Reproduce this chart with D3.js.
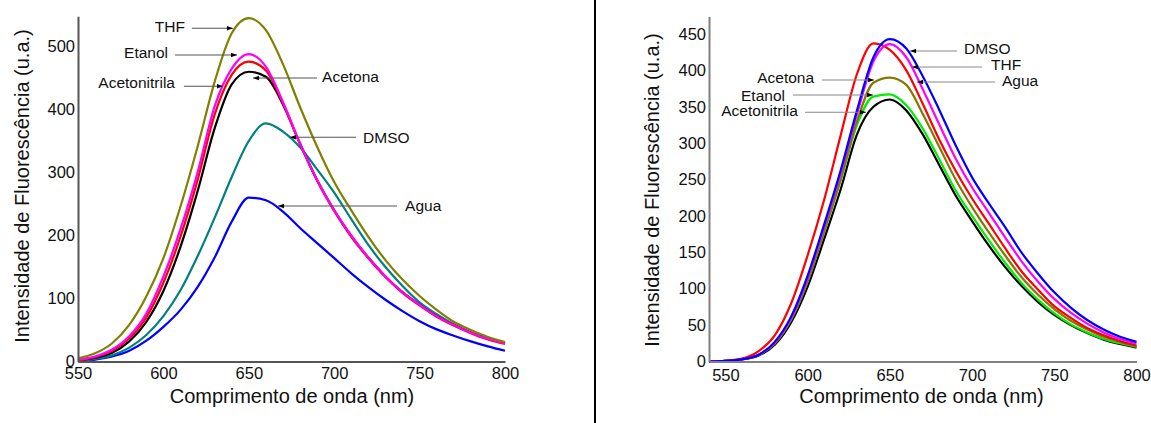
<!DOCTYPE html>
<html>
<head>
<meta charset="utf-8">
<script src="https://cdn.jsdelivr.net/npm/d3@7"></script>
<style>
  html, body { margin: 0; padding: 0; background: #fff; }
  svg { display: block; font-family: "Liberation Sans", Arial, sans-serif; }
</style>
</head>
<body>
<svg id="chart" width="1151" height="423"></svg>
<script>
// ---------- data ----------
const leftWavelengths = [550,560,570,580,590,600,610,620,630,640,650,660,670,680,690,700,710,720,730,740,750,760,770,780,790,800];
const leftTHF          = [5,13,29,58,103,164,246,341,444,521,545,526,472,404,341,285,240,198,161,130,104,82,63,50,39,31];
const leftEtanol       = [3,8,19,40,76,135,210,300,405,465,488,468,412,346,288,240,200,165,135,110,90,72,58,46,36,29];
const leftAcetonitrila = [2,7,17,37,70,125,198,288,392,455,476,462,410,345,287,239,198,164,134,109,89,71,57,45,35,28];
const leftAcetona      = [2,6,14,32,63,112,182,270,370,440,460,452,408,346,288,240,199,165,135,110,90,72,58,46,36,29];
const leftDMSO         = [1,4,10,22,42,72,113,167,228,293,350,378,365,340,305,268,226,185,150,120,94,75,59,46,37,30];
const leftAgua         = [0,3,8,17,33,55,82,118,165,222,260,256,238,212,188,164,140,118,98,80,64,51,41,32,24,17];

const rightWavelengths = [540,550,560,570,580,590,600,610,620,630,640,650,660,670,680,690,700,710,720,730,740,750,760,770,780,790,800];
const rightAgua         = [0,1,4,14,36,80,146,222,310,395,437,428,400,354,305,262,224,190,156,124,99,76,60,46,36,28,22];
const rightDMSO         = [0,1,3,9,27,62,118,188,262,345,418,443,430,392,346,297,253,218,185,150,121,95,74,57,44,34,27];
const rightTHF          = [0,1,3,9,26,60,115,185,258,340,412,436,418,374,326,279,239,205,171,138,110,86,67,52,40,31,25];
const rightAcetona      = [0,1,3,9,25,58,110,178,250,330,383,390,380,340,295,250,212,178,146,116,92,72,56,44,34,27,21];
const rightEtanol       = [0,1,3,9,25,58,110,178,248,325,364,367,352,320,278,235,200,167,136,108,85,66,51,40,31,25,20];
const rightAcetonitrila = [0,1,3,8,23,54,103,168,236,312,350,360,345,312,270,228,193,160,130,104,82,64,50,39,30,24,19];

const leftXTicks  = [550,600,650,700,750,800];
const leftYTicks  = [0,100,200,300,400,500];
const rightXTicks = [550,600,650,700,750,800];
const rightYTicks = [0,50,100,150,200,250,300,350,400,450];

const xTitle = "Comprimento de onda (nm)";
const yTitle = "Intensidade de Fluorescência (u.a.)";

// ---------- series definitions (drawn back to front) ----------
const leftSeries = [
  {name:"Agua", values:leftAgua, color:"#0000ff"},
  {name:"DMSO", values:leftDMSO, color:"#008080"},
  {name:"Acetona", values:leftAcetona, color:"#000000"},
  {name:"Acetonitrila", values:leftAcetonitrila, color:"#ff0000"},
  {name:"Etanol", values:leftEtanol, color:"#ff00ff"},
  {name:"THF", values:leftTHF, color:"#808000"}
];
const rightSeries = [
  {name:"Acetonitrila", values:rightAcetonitrila, color:"#000000"},
  {name:"Etanol", values:rightEtanol, color:"#00ee00"},
  {name:"Acetona", values:rightAcetona, color:"#857800"},
  {name:"Agua", values:rightAgua, color:"#ff0000"},
  {name:"THF", values:rightTHF, color:"#ff00ff"},
  {name:"DMSO", values:rightDMSO, color:"#0000ff"}
];

// annotations in data units: text anchor point, line start, arrow tip
const leftAnn = [
  {label:"THF",          side:"left",  tx:612.6, ty:532, lx:616.7, tip:640.7, ly:529},
  {label:"Etanol",       side:"left",  tx:602.7, ty:491, lx:606.8, tip:643.1, ly:486.5},
  {label:"Acetonitrila", side:"left",  tx:606.8, ty:442, lx:612.0, tip:634.9, ly:437},
  {label:"Acetona",      side:"right", tx:692.9, ty:451.6, lx:689.9, tip:652.5, ly:450},
  {label:"DMSO",         side:"right", tx:716.9, ty:356, lx:712.8, tip:674.1, ly:356},
  {label:"Agua",         side:"right", tx:741.5, ty:246.8, lx:736.8, tip:667.1, ly:246.8}
];
const rightAnn = [
  {label:"Acetona",      side:"left",  tx:603.9, ty:389.5, lx:608.7, tip:640.4, ly:386.8},
  {label:"Etanol",       side:"left",  tx:586.2, ty:364.8, lx:591.1, tip:639.8, ly:366.2},
  {label:"Acetonitrila", side:"left",  tx:594.1, ty:344.2, lx:598.4, tip:635.5, ly:342.5},
  {label:"DMSO",         side:"right", tx:695.1, ty:429.4, lx:690.9, tip:662.3, ly:426.6},
  {label:"THF",          side:"right", tx:711.5, ty:407.4, lx:706.1, tip:663.5, ly:404.6},
  {label:"Agua",         side:"right", tx:718.2, ty:385.4, lx:714.0, tip:666.5, ly:384}
];

// ---------- drawing ----------
const svg = d3.select("#chart");
svg.append("rect").attr("width",1151).attr("height",423).attr("fill","#fff");

function drawChart(cfg) {
  const x = d3.scaleLinear().domain(cfg.xDomain).range(cfg.xRange);
  const y = d3.scaleLinear().domain(cfg.yDomain).range(cfg.yRange);
  const g = svg.append("g");

  // curves
  const line = d3.line().curve(d3.curveMonotoneX)
    .x((d,i) => x(cfg.wl[i])).y(d => y(d));
  cfg.series.forEach(s => {
    g.append("path").datum(s.values)
      .attr("d", line).attr("fill","none")
      .attr("stroke", s.color).attr("stroke-width", 2.2)
      .attr("stroke-linejoin","round");
  });

  // axes
  const xAxis = g.append("g").attr("transform", `translate(0,${cfg.yRange[0]})`)
    .call(d3.axisBottom(x).tickValues(cfg.xTicks).tickSize(0).tickPadding(cfg.xPad).tickFormat(d3.format("d")));
  const yAxis = g.append("g").attr("transform", `translate(${cfg.xRange[0]},0)`)
    .call(d3.axisLeft(y).tickValues(cfg.yTicks).tickSize(0).tickPadding(3).tickFormat(d3.format("d")));
  [xAxis, yAxis].forEach(a => {
    a.select(".domain").attr("stroke", cfg.axisColor).attr("stroke-width", 2);
    a.selectAll("text").attr("font-size", 16.5).attr("fill","#111")
      .attr("font-family", '"Liberation Sans", Arial, sans-serif');
  });

  // titles
  g.append("text").attr("x", cfg.xTitleX).attr("y", 403)
    .attr("text-anchor","middle").attr("font-size",20).attr("fill","#111").text(xTitle);
  g.append("text").attr("transform", `translate(${cfg.yTitleX},${cfg.yTitleY}) rotate(-90)`)
    .attr("text-anchor","middle").attr("font-size",20).attr("fill","#111").text(yTitle);

  // annotations
  cfg.ann.forEach(a => {
    const x1 = x(a.lx), x2 = x(a.tip), yy = y(a.ly);
    g.append("line").attr("x1",x1).attr("x2",x2).attr("y1",yy).attr("y2",yy)
      .attr("stroke", cfg.annLineColor).attr("stroke-width",1.1);
    const dir = x2 < x1 ? 1 : -1; // arrow points toward tip
    g.append("path")
      .attr("d", `M${x2},${yy} L${x2+dir*6},${yy-2.3} L${x2+dir*6},${yy+2.3} Z`)
      .attr("fill","#000");
    g.append("text").attr("x", x(a.tx)).attr("y", y(a.ty))
      .attr("dy","0.35em")
      .attr("text-anchor", a.side === "left" ? "end" : "start")
      .attr("font-size", 15.5).attr("fill","#111").text(a.label);
  });
}

drawChart({
  wl: leftWavelengths, series: leftSeries, ann: leftAnn,
  xDomain:[550,800], xRange:[78,505],
  yDomain:[0,548], yRange:[361.5,16.3],
  xTicks:leftXTicks, yTicks:leftYTicks, xPad:5.5,
  axisColor:"#555", annLineColor:"#555",
  xTitleX:292, yTitleX:29, yTitleY:186
});
drawChart({
  wl: rightWavelengths, series: rightSeries, ann: rightAnn,
  xDomain:[540,800], xRange:[709,1136.5],
  yDomain:[0,474], yRange:[361.5,16.5],
  xTicks:rightXTicks, yTicks:rightYTicks, xPad:7.5,
  axisColor:"#808080", annLineColor:"#888",
  xTitleX:921.5, yTitleX:659, yTitleY:190
});

// divider
svg.append("line").attr("x1",595).attr("x2",595).attr("y1",0).attr("y2",423)
  .attr("stroke","#000").attr("stroke-width",2);
</script>
</body>
</html>
